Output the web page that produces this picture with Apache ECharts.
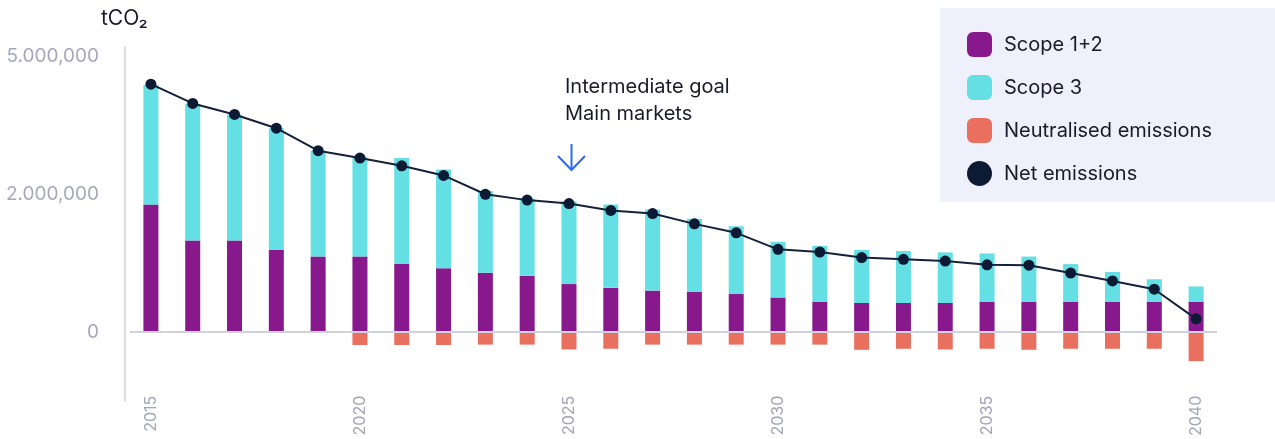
<!DOCTYPE html>
<html>
<head>
<meta charset="utf-8">
<script src="https://cdn.jsdelivr.net/npm/echarts@6/dist/echarts.min.js"></script>
<style>
  html, body { margin: 0; padding: 0; background: #ffffff; }
  #chart { width: 1275px; height: 439px; }
</style>
</head>
<body>
<div id="chart"></div>
<script>
// Emission pathway 2015–2040, tonnes of CO2
const years = ['2015','2016','2017','2018','2019','2020','2021','2022','2023','2024','2025','2026','2027',
               '2028','2029','2030','2031','2032','2033','2034','2035','2036','2037','2038','2039','2040'];

const scope12 = [1850000, 1330000, 1330000, 1190000, 1095000, 1095000, 985000, 925000, 860000, 815000,
                 695000, 640000, 600000, 585000, 550000, 500000, 440000, 420000, 420000, 420000,
                 440000, 440000, 440000, 440000, 440000, 440000];

const scope3 = [2530000, 2640000, 2410000, 2250000, 1855000, 1725000, 1805000, 1615000, 1210000, 1125000,
                1205000, 1210000, 1180000, 1060000, 985000, 810000, 810000, 770000, 755000, 735000,
                700000, 655000, 545000, 430000, 325000, 220000];

const neutralised = [0, 0, 0, 0, 0, -190000, -190000, -190000, -185000, -185000,
                     -255000, -245000, -185000, -185000, -185000, -185000, -185000, -260000, -245000, -255000,
                     -245000, -260000, -245000, -245000, -245000, -425000];

const netEmissions = [4400000, 3980000, 3740000, 3440000, 2950000, 2790000, 2620000, 2410000, 2000000, 1915000,
                      1865000, 1765000, 1720000, 1570000, 1440000, 1200000, 1160000, 1080000, 1055000, 1030000,
                      975000, 970000, 855000, 740000, 620000, 190000];

const tickValues = [0, 2000000, 5000000];
const tickLabels = ['0', '2.000,000', '5.000,000'];

// The value axis is piecewise linear: equal spacing between 0, 2M and 5M.
function toAxis(v) {
  if (v <= tickValues[1]) return v / tickValues[1];
  return 1 + (v - tickValues[1]) / (tickValues[2] - tickValues[1]);
}

const s12Axis = scope12.map(toAxis);
const s3Axis = scope3.map((v, i) => toAxis(scope12[i] + v) - toAxis(scope12[i]));
const neutAxis = neutralised.map(toAxis);
const netAxis = netEmissions.map(toAxis);

const FONT = 'Inter, "Noto Sans", sans-serif';
const chart = echarts.init(document.getElementById('chart'), null, { renderer: 'canvas' });

chart.setOption({
  animation: false,
  textStyle: { fontFamily: FONT },
  title: {
    text: 'tCO₂',
    left: 101, top: 8, padding: 0,
    textStyle: { fontFamily: FONT, fontSize: 21, fontWeight: 'normal', color: '#1a1a2a' }
  },
  legend: {
    orient: 'vertical',
    left: 940, top: 8,
    padding: [24, 70, 16, 27],
    backgroundColor: '#eef0fb',
    itemWidth: 25, itemHeight: 25, itemGap: 18,
    textStyle: { fontFamily: FONT, fontSize: 20, color: '#1a1a28', padding: [0, 0, 0, 7] },
    data: [
      { name: 'Scope 1+2' },
      { name: 'Scope 3' },
      { name: 'Neutralised emissions' },
      { name: 'Net emissions', icon: 'circle' }
    ],
    selectedMode: false
  },
  grid: { left: 130, right: 58, top: 47, bottom: 37, containLabel: false },
  xAxis: {
    type: 'category',
    data: years,
    axisLine: { show: false },
    axisTick: { show: false },
    axisLabel: {
      rotate: 90, interval: 4, margin: -5,
      fontFamily: FONT, fontSize: 16, color: '#a3a5b8'
    }
  },
  yAxis: {
    type: 'value',
    min: -0.5, max: 2.07, interval: 0.5,
    offset: 5,
    axisLine: { show: true, lineStyle: { color: '#cfd1dc', width: 1.5 } },
    axisTick: { show: false },
    splitLine: { show: false },
    axisLabel: {
      margin: 26,
      fontFamily: FONT, fontSize: 19, color: '#a7a9bb',
      formatter: function (v) {
        for (let i = 0; i < tickValues.length; i++) {
          if (Math.abs(toAxis(tickValues[i]) - v) < 1e-6) return tickLabels[i];
        }
        return '';
      }
    }
  },
  series: [
    {
      name: 'Scope 1+2', type: 'bar', stack: 'em', barWidth: 15,
      itemStyle: { color: '#87198d' },
      data: s12Axis
    },
    {
      name: 'Scope 3', type: 'bar', stack: 'em', barWidth: 15,
      itemStyle: { color: '#64dfe3' },
      data: s3Axis
    },
    {
      name: 'Neutralised emissions', type: 'bar', stack: 'em', barWidth: 15,
      itemStyle: { color: '#e96f5f' },
      data: neutAxis,
      markLine: {
        silent: true, symbol: 'none',
        label: { show: false },
        lineStyle: { color: '#cfd1dc', width: 2, type: 'solid' },
        data: [{ yAxis: 0 }]
      }
    },
    {
      name: 'Net emissions', type: 'line', z: 5,
      symbol: 'circle', symbolSize: 11,
      itemStyle: { color: '#0c1a33' },
      lineStyle: { color: '#16203a', width: 2 },
      data: netAxis
    }
  ],
  graphic: [
    {
      type: 'text', left: 565, top: 73,
      style: {
        text: 'Intermediate goal\nMain markets',
        font: '20px ' + FONT, lineHeight: 27, fill: '#1a1b2a'
      }
    },
    {
      type: 'group',
      children: [
        { type: 'line', shape: { x1: 571.5, y1: 144, x2: 571.5, y2: 170 },
          style: { stroke: '#2a6bf5', lineWidth: 2 } },
        { type: 'polyline', shape: { points: [[558, 156], [571.5, 170], [585, 156]] },
          style: { stroke: '#2a6bf5', lineWidth: 2, fill: null } }
      ]
    }
  ]
});
</script>
</body>
</html>
